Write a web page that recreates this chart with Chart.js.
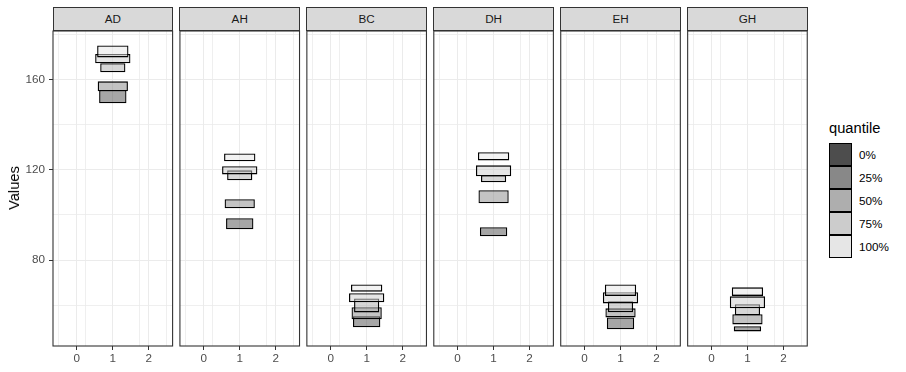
<!DOCTYPE html>
<html>
<head>
<meta charset="utf-8">
<script src="https://cdn.jsdelivr.net/npm/chart.js@4/dist/chart.umd.min.js"></script>
<style>
  body { margin: 0; background: #fff; font-family: "Liberation Sans", Arial, sans-serif; }
  #fig { position: relative; width: 906px; height: 372px; overflow: hidden; }
  #fig canvas { position: absolute; }
  .strip { position: absolute; top: 7px; height: 24px; box-sizing: border-box; background: #D9D9D9;
           border: 1px solid #333; color: #1A1A1A; font-size: 11.7px; line-height: 22px; text-align: center; }
  .ytitle { position: absolute; left: 14px; top: 188px; transform: translate(-50%, -50%) rotate(-90deg);
            font-size: 14.7px; color: #000; white-space: nowrap; }
  .ltitle { position: absolute; left: 829px; top: 121px; font-size: 14.7px; line-height: 15px; color: #000; }
  .lkey { position: absolute; left: 829px; width: 23px; height: 23px; box-sizing: border-box; border: 1.2px solid #000; }
  .llab { position: absolute; left: 859px; font-size: 11.7px; line-height: 23px; color: #000; }
</style>
</head>
<body>
<div id="fig"></div>
<script>
// Facets and quantile levels
const facets = ['AD', 'AH', 'BC', 'DH', 'EH', 'GH'];
const quantiles = ['0%', '25%', '50%', '75%', '100%'];

// x position and box width (x units) of each quantile box
const xPos = 1;
const boxWidths = [0.76, 0.84, 0.70, 0.98, 0.87];

// [low, high] of each quantile box, one list per facet
const rangesAD = [[149.4, 155.3], [154.7, 159.1], [163.1, 167.1], [167.1, 171.2], [169.7, 175.0]];
const rangesAH = [[93.6, 98.5], [102.9, 106.9], [115.3, 119.7], [117.9, 121.5], [123.7, 127.2]];
const rangesBC = [[50.2, 55.1], [53.8, 59.1], [56.8, 63.0], [61.3, 65.3], [66.0, 69.2]];
const rangesDH = [[90.5, 94.5], [105.1, 110.9], [114.4, 117.5], [117.1, 121.9], [124.1, 127.7]];
const rangesEH = [[49.3, 54.6], [54.6, 58.6], [56.9, 61.7], [60.8, 65.7], [64.1, 69.2]];
const rangesGH = [[48.4, 50.7], [51.5, 56.0], [55.5, 60.4], [58.6, 63.9], [64.1, 67.9]];
const facetRanges = { AD: rangesAD, AH: rangesAH, BC: rangesBC, DH: rangesDH, EH: rangesEH, GH: rangesGH };

// axis ticks
const xTicks = [0, 1, 2];
const xMinorTicks = [-0.5, 0.5, 1.5, 2.5];
const yTicks = [80, 120, 160];
const yMinorTicks = [60, 100, 140, 180];

// greys for the quantiles
const fills = ['#4D4D4D', '#888888', '#AEAEAE', '#CCCCCC', '#E6E6E6'];

const FONT = '"Liberation Sans", Arial, sans-serif';
const X_MIN = -0.661, X_MAX = 2.661;
const Y_MIN = 41.93, Y_MAX = 181.38;
const PANEL_X0 = 53, PANEL_W = 119.6, GAP = 7.33;
const fig = document.getElementById('fig');

function withAlpha(hex, a) {
  const n = parseInt(hex.slice(1), 16);
  return `rgba(${(n >> 16) & 255},${(n >> 8) & 255},${n & 255},${a})`;
}

const panelBorder = {
  id: 'panelBorder',
  afterDraw(chart) {
    const { ctx, chartArea: a } = chart;
    ctx.save();
    ctx.strokeStyle = '#333333';
    ctx.lineWidth = 1.1;
    ctx.strokeRect(a.left, a.top, a.right - a.left, a.bottom - a.top);
    ctx.restore();
  }
};

const yAll = yMinorTicks.concat(yTicks).sort((a, b) => a - b);

facets.forEach((name, i) => {
  const first = i === 0;
  const left = PANEL_X0 + i * (PANEL_W + GAP);
  const cLeft = first ? 0 : Math.floor(left) - 2;
  const cRight = Math.ceil(left + PANEL_W) + 2;
  const cW = cRight - cLeft;
  const padL = first ? 0 : left - cLeft;
  const padR = cRight - (left + PANEL_W);

  // strip
  const strip = document.createElement('div');
  strip.className = 'strip';
  strip.style.left = (left - 0.5) + 'px';
  strip.style.width = (PANEL_W + 1) + 'px';
  strip.textContent = name;
  fig.appendChild(strip);

  const canvas = document.createElement('canvas');
  canvas.width = cW;
  canvas.height = 342;
  canvas.style.left = cLeft + 'px';
  canvas.style.top = '30px';
  canvas.style.width = cW + 'px';
  canvas.style.height = '342px';
  fig.appendChild(canvas);

  const ranges = facetRanges[name];
  new Chart(canvas, {
    type: 'bar',
    data: {
      datasets: quantiles.map((q, k) => ({
        label: q,
        data: [{ x: xPos, y: ranges[k] }],
        backgroundColor: withAlpha(fills[k], 0.5),
        borderColor: '#000000',
        borderWidth: 1.3,
        borderSkipped: false,
        grouped: false,
        categoryPercentage: 1,
        barPercentage: boxWidths[k],
        order: quantiles.length - k
      }))
    },
    options: {
      responsive: false,
      animation: false,
      layout: { padding: { left: padL, right: padR, top: 1, bottom: 0 } },
      plugins: { legend: { display: false }, tooltip: { enabled: false } },
      scales: {
        x: {
          type: 'linear', min: X_MIN, max: X_MAX, offset: false,
          afterBuildTicks: s => { s.ticks = xTicks.map(v => ({ value: v })); },
          afterFit: s => { s.height = 26; s.paddingLeft = 0; s.paddingRight = 0; },
          border: { display: false },
          grid: { offset: false, color: '#EBEBEB', lineWidth: 1, tickColor: '#333333', tickLength: 4 },
          ticks: { color: '#4D4D4D', font: { family: FONT, size: 11.7 }, padding: 2, autoSkip: false, maxRotation: 0 }
        },
        xm: {
          type: 'linear', position: 'bottom', min: X_MIN, max: X_MAX,
          afterBuildTicks: s => { s.ticks = xMinorTicks.map(v => ({ value: v })); },
          afterFit: s => { s.height = 0; s.paddingLeft = 0; s.paddingRight = 0; },
          border: { display: false },
          grid: { color: '#EBEBEB', lineWidth: 0.8, drawTicks: false },
          ticks: { display: false }
        },
        y: {
          min: Y_MIN, max: Y_MAX,
          afterBuildTicks: s => { s.ticks = yAll.map(v => ({ value: v })); },
          afterFit: s => { s.width = first ? left : 0; s.paddingTop = 0; s.paddingBottom = 0; },
          border: { display: false },
          grid: {
            color: '#EBEBEB',
            lineWidth: c => (yTicks.includes(c.tick.value) ? 1 : 0.8),
            drawTicks: first,
            tickLength: 4,
            tickColor: c => (yTicks.includes(c.tick.value) ? '#333333' : 'rgba(0,0,0,0)')
          },
          ticks: {
            display: first,
            autoSkip: false,
            padding: 4,
            color: '#4D4D4D',
            font: { family: FONT, size: 11.7 },
            callback: v => (yTicks.includes(v) ? String(v) : '')
          }
        }
      }
    },
    plugins: [panelBorder]
  });
});

// y axis title
const yt = document.createElement('div');
yt.className = 'ytitle';
yt.textContent = 'Values';
fig.appendChild(yt);

// legend
const lt = document.createElement('div');
lt.className = 'ltitle';
lt.textContent = 'quantile';
fig.appendChild(lt);
quantiles.forEach((q, k) => {
  const top = 143.3 + k * 22.8;
  const key = document.createElement('div');
  key.className = 'lkey';
  key.style.top = top + 'px';
  key.style.background = fills[k];
  fig.appendChild(key);
  const lab = document.createElement('div');
  lab.className = 'llab';
  lab.style.top = top + 'px';
  lab.textContent = q;
  fig.appendChild(lab);
});
</script>
</body>
</html>
